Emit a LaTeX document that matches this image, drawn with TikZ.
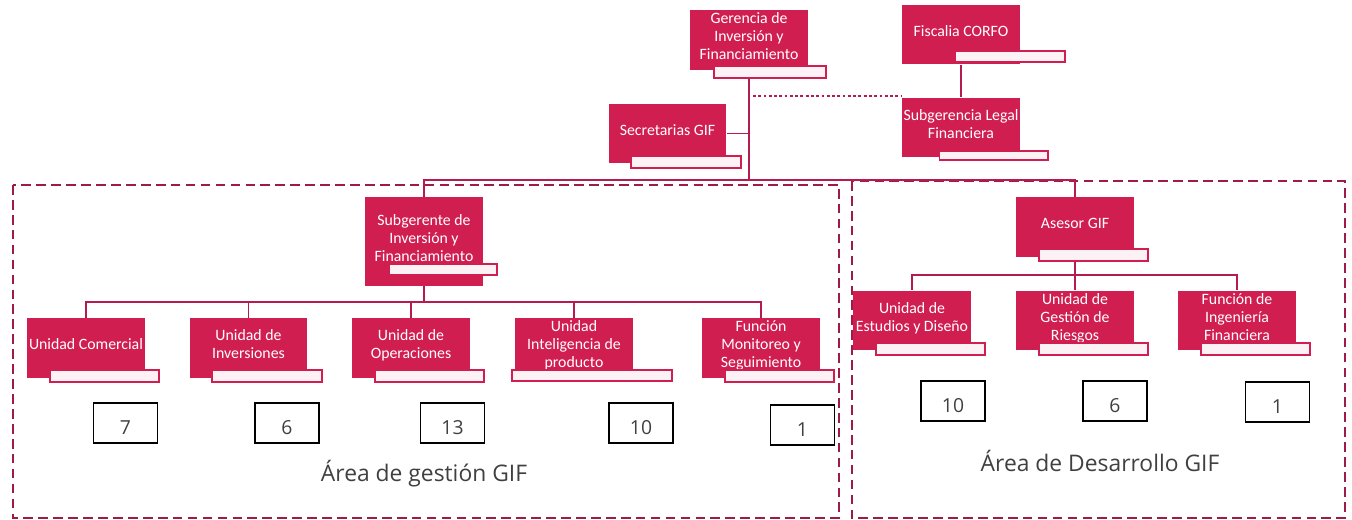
\documentclass[tikz,border=0pt]{standalone}
\usepackage{fontspec}
\setmainfont{Carlito}
\newfontfamily\areafont{Open Sans}
\usepackage{tikz}
\usetikzlibrary{calc, positioning}
\definecolor{gifpink}{RGB}{209,30,81}
\definecolor{gifline}{RGB}{183,26,77}
\definecolor{gifdash}{RGB}{158,27,71}
\definecolor{giftext}{RGB}{64,64,64}
\tikzset{
  unit/.style={fill=gifpink, text=white, align=center, font=\fontsize{9}{10.2}\selectfont,
    minimum width=2.36cm, minimum height=1.2cm, inner xsep=1pt, inner ysep=1pt, text depth=0.15cm},
  tab/.style={draw=gifpink, fill=gifpink!6, line width=1.1pt},
  link/.style={draw=gifline, line width=1.1pt},
  count/.style={draw=black, line width=0.8pt, minimum width=1.28cm, minimum height=0.8cm, inner ysep=0pt,
    text=giftext, font=\areafont\fontsize{11}{12}\selectfont, text height=0.48cm, text depth=0pt},
  area/.style={draw=gifdash, line width=1.4pt, dash pattern=on 5.5pt off 3pt},
  arealabel/.style={text=giftext, font=\areafont\fontsize{13}{15}\selectfont}
}

\begin{document}
\begin{tikzpicture}[x=0.02cm, y=-0.02cm]
  \useasboundingbox (0,0) rectangle (1352,520);

  % Areas
  \draw[area] (13,185) rectangle (839,518);
  \draw[area] (852,181) rectangle (1345,518);
  \node[arealabel] (lgest) at (424,474) {Área de gestión GIF};
  \node[arealabel] (ldes) at (1100,461) {Área de Desarrollo GIF};

  % Top level
  \node[unit] (gif) at (749,40) {Gerencia de\\Inversión y\\Financiamiento};
  \node[unit] (fis) at (961,34.5) {Fiscalia CORFO};
  \node[unit] (leg) at (961,127.5) {Subgerencia Legal\\Financiera};
  \node[unit] (sec) at (667.5,133.5) {Secretarias GIF};
  \node[unit, minimum height=1.78cm] (sub) at (424,241.5) {Subgerente de\\Inversión y\\Financiamiento};
  \node[unit] (ase) at (1075,227) {Asesor GIF};

  % Units of the gestion area
  \node[unit] (com) at (86,348) {Unidad Comercial};
  \node[unit] (inv) at (248.5,348) {Unidad de\\Inversiones};
  \node[unit] (ope) at (411,348) {Unidad de\\Operaciones};
  \node[unit] (int) at (574,348) {Unidad\\Inteligencia de\\producto};
  \node[unit] (mon) at (761,348) {Función\\Monitoreo y\\Seguimiento};

  % Units of the desarrollo area
  \node[unit] (est) at (912,320.5) {Unidad de\\Estudios y Diseño};
  \node[unit] (rie) at (1075,320.5) {Unidad de\\Gestión de\\Riesgos};
  \node[unit] (ing) at (1237,320.5) {Función de\\Ingeniería\\Financiera};

  % Head counts
  \node[count] (ncom) at (125.5,423) {7};
  \node[count] (ninv) at (287,423) {6};
  \node[count] (nope) at (452.5,423) {13};
  \node[count] (nint) at (641,423) {10};
  \node[count] (nmon) at (802.5,425) {1};
  \node[count] (nest) at (953,401) {10};
  \node[count] (nrie) at (1115,401) {6};
  \node[count] (ning) at (1277.5,402) {1};

  % Connectors
  \coordinate (tophub) at (749,180);
  \coordinate (subhub) at (424,302);
  \coordinate (asehub) at (1075,275);
  \coordinate (dot) at ($(gif.south |- leg.north)+(4,-1)$);
  \draw[link] (gif.south) -- (tophub);
  \draw[link] (tophub) -| (sub.north);
  \draw[link] (tophub) -| (ase.north);
  \draw[link] (sec.east) -- (sec.east -| tophub);
  \draw[link] (fis) -- (leg);
  \draw[link, dash pattern=on 1.6pt off 1.4pt] (dot) -- (dot -| leg.west);
  \draw[link] (sub.south) -- (subhub);
  \foreach \c in {com, inv, ope, int, mon}
    \draw[link] (subhub) -| (\c.north);
  \draw[link] (ase.south) -- (asehub);
  \foreach \c in {est, rie, ing}
    \draw[link] (asehub) -| (\c.north);

  % Tabs under the boxes
  \foreach \n in {sec, ase, com, inv, ope, mon, est, rie, ing}
    \draw[tab] ($(\n.south west)+(23,-8)$) rectangle ($(\n.south east)+(14,4)$);
  \draw[tab] ($(gif.south west)+(24,-4)$) rectangle ($(gif.south east)+(18,8)$);
  \draw[tab] ($(fis.south west)+(53,-14)$) rectangle ($(fis.south east)+(45,-3)$);
  \draw[tab] ($(leg.south west)+(38,-7)$) rectangle ($(leg.south east)+(27,2)$);
  \draw[tab] ($(sub.south west)+(24,-22)$) rectangle ($(sub.south east)+(14,-11)$);
  \draw[tab] ($(int.south west)+(-3,-8)$) rectangle ($(int.south east)+(39,3)$);
\end{tikzpicture}
\end{document}
